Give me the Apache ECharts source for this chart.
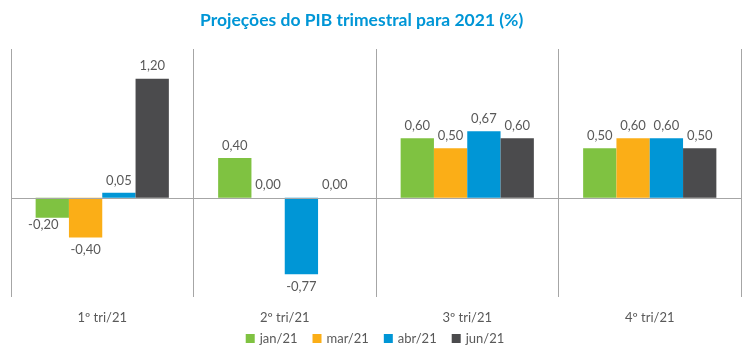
<!DOCTYPE html>
<html>
<head>
<meta charset="utf-8">
<script src="https://cdn.jsdelivr.net/npm/echarts@6/dist/echarts.min.js"></script>
<style>html,body{margin:0;padding:0;background:#fff}#c{width:750px;height:355px}</style>
</head>
<body>
<div id="c"></div>
<script>
const categories = ['1º tri/21', '2º tri/21', '3º tri/21', '4º tri/21'];
const seriesNames = ['jan/21', 'mar/21', 'abr/21', 'jun/21'];
const jan21 = [-0.20, 0.40, 0.60, 0.50];
const mar21 = [-0.40, 0.00, 0.50, 0.60];
const abr21 = [0.05, -0.77, 0.67, 0.60];
const jun21 = [1.20, 0.00, 0.60, 0.50];

const colors = ['#7FC241', '#FBAE17', '#0096D6', '#4B4B4D'];
const FONT = 'Lato';
const TXT = '#595959';

function fmt(v) { return v.toFixed(2).replace('.', ','); }

function makeData(arr, si) {
  return arr.map((v, i) => {
    const item = { value: v, label: { position: v < 0 ? 'bottom' : 'top' } };
    if (si === 0 && i === 0) item.label.offset = [-9, -5];
    return item;
  });
}

const allSeries = [jan21, mar21, abr21, jun21].map((arr, si) => ({
  name: seriesNames[si],
  type: 'bar',
  data: makeData(arr, si),
  barGap: '0%',
  barCategoryGap: '27%',
  itemStyle: { color: colors[si] },
  label: {
    show: true,
    distance: 6,
    color: TXT,
    fontFamily: FONT,
    fontSize: 13,
    formatter: p => fmt(p.value)
  },
  markLine: si === 0 ? {
    silent: true,
    symbol: ['none', 'none'],
    label: { show: false },
    lineStyle: { color: '#A6A6A6', type: 'solid', width: 1 },
    data: [{ yAxis: 0 }]
  } : undefined
}));

const chart = echarts.init(document.getElementById('c'), null, { renderer: 'canvas' });
chart.setOption({
  animation: false,
  title: {
    text: 'Projeções do PIB trimestral para 2021 (%)',
    left: 195,
    top: 6,
    textStyle: { color: '#0096D6', fontFamily: FONT, fontWeight: 'bold', fontSize: 17.5 }
  },
  legend: {
    data: seriesNames,
    bottom: 5,
    left: 'center',
    itemWidth: 9,
    itemHeight: 9,
    itemGap: 15,
    icon: 'rect',
    textStyle: { color: TXT, fontFamily: FONT, fontSize: 13 }
  },
  grid: { left: 11, right: 9, top: 49, bottom: 58, containLabel: false },
  xAxis: {
    type: 'category',
    data: categories,
    axisLine: { show: false, onZero: false },
    axisTick: { show: false },
    axisLabel: { color: TXT, fontFamily: FONT, fontSize: 13, margin: 14 },
    splitLine: { show: true, lineStyle: { color: '#A6A6A6', width: 1 } }
  },
  yAxis: {
    type: 'value',
    min: -1,
    max: 1.5,
    show: false,
    splitLine: { show: false }
  },
  series: allSeries
});
</script>
</body>
</html>
